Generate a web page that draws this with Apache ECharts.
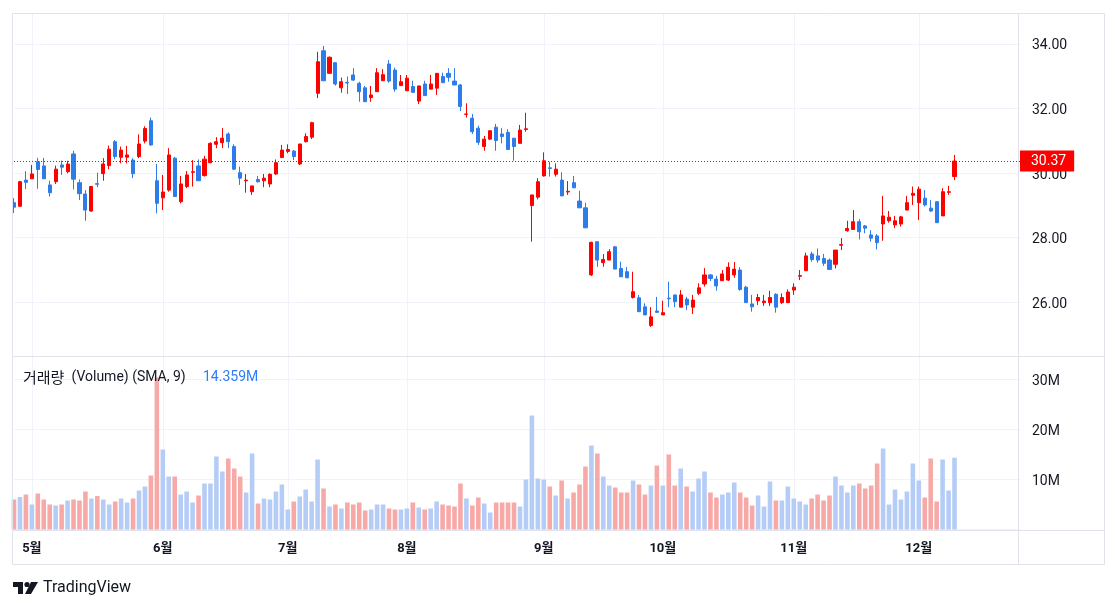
<!DOCTYPE html>
<html><head><meta charset="utf-8">
<script src="https://cdn.jsdelivr.net/npm/echarts@6/dist/echarts.min.js"></script>
<style>html,body{margin:0;padding:0;background:#fff}#c{width:1118px;height:609px}</style>
</head><body><div id="c"></div>
<script>
// trading days (month, day list)
const tradingDays = [
  ['2023-04', [26,27,28]],
  ['2023-05', [1,2,3,4,5,8,9,10,11,12,15,16,17,18,19,22,23,24,25,26,30,31]],
  ['2023-06', [1,2,5,6,7,8,9,12,13,14,15,16,20,21,22,23,26,27,28,29,30]],
  ['2023-07', [3,5,6,7,10,11,12,13,14,17,18,19,20,21,24,25,26,27,28,31]],
  ['2023-08', [1,2,3,4,7,8,9,10,11,14,15,16,17,18,21,22,23,24,25,28,29,30,31]],
  ['2023-09', [1,5,6,7,8,11,12,13,14,15,18,19,20,21,22,25,26,27,28,29]],
  ['2023-10', [2,3,4,5,6,9,10,11,12,13,16,17,18,19,20,23,24,25,26,27,30,31]],
  ['2023-11', [1,2,3,6,7,8,9,10,13,14,15,16,17,20,21,22,24,27,28,29,30]],
  ['2023-12', [1,4,5,6,7,8,11]]
];
// empty space on the right of the chart (future sessions)
const futureDays = [['2023-12', [12,13,14,15,18,19,20,21,22,26,27]]];

const opens = [29.08,28.97,29.78,29.82,30.35,30.22,29.63,29.73,30.25,30.04,
 30.59,29.70,29.35,28.82,29.67,29.98,30.23,30.97,30.49,30.49,
 30.40,30.51,30.99,31.62,29.76,29.23,29.47,30.46,29.11,29.58,
 30.02,30.22,29.92,30.32,30.89,30.94,31.21,30.82,30.01,29.76,
 29.42,29.80,29.76,29.66,29.97,30.48,30.67,30.68,30.28,30.97,
 31.11,32.47,33.79,33.09,33.42,32.64,32.81,33.04,32.78,32.64,
 32.34,32.52,32.86,33.38,33.19,32.71,32.55,32.68,32.23,32.76,
 32.60,32.63,32.99,33.09,32.85,32.73,31.82,31.70,31.39,30.82,
 31.05,31.42,31.21,31.26,31.08,30.92,31.35,28.99,29.25,29.91,
 30.16,29.96,29.78,29.41,29.70,29.13,28.92,26.84,27.87,27.22,
 27.30,27.71,27.04,26.94,26.14,26.13,25.85,25.27,25.72,25.60,
 26.12,26.22,25.84,26.09,25.84,26.27,26.56,26.84,26.71,26.66,
 26.68,26.84,26.99,26.46,25.94,26.04,25.98,25.98,26.24,25.98,
 25.98,26.37,26.80,26.97,27.49,27.43,27.35,27.30,27.17,27.76,
 28.21,28.25,28.49,28.36,28.08,28.05,28.42,28.52,28.39,28.42,
 28.85,29.31,29.08,29.22,28.91,29.11,28.67,29.40,29.89];
const closes = [28.94,29.73,29.71,29.97,30.11,29.82,29.39,30.12,30.18,30.28,
 29.81,29.36,28.85,29.58,29.65,30.28,30.74,30.51,30.71,30.56,
 29.98,30.90,31.38,30.87,29.06,29.41,30.56,29.27,29.66,29.94,
 30.04,29.76,30.43,30.92,30.97,31.08,30.97,30.12,29.84,29.78,
 29.60,29.73,29.84,29.96,30.32,30.71,30.73,30.51,30.90,31.13,
 31.56,33.45,32.86,33.59,32.76,32.83,32.79,32.88,32.52,32.21,
 32.42,33.11,33.05,32.85,32.60,32.83,32.94,32.50,32.70,32.40,
 32.76,33.09,32.80,32.97,32.73,32.06,31.83,31.28,30.95,31.05,
 31.31,31.01,31.13,30.73,30.82,31.33,31.37,29.32,29.73,30.38,
 30.14,30.12,29.29,29.43,29.54,28.92,28.30,27.85,27.30,27.32,
 27.56,27.02,26.78,26.75,26.32,25.70,25.60,25.54,25.68,25.67,
 26.10,26.01,26.22,25.91,26.06,26.44,26.84,26.73,26.50,26.87,
 27.08,27.02,26.39,25.98,25.85,26.14,26.03,26.14,25.84,26.14,
 26.31,26.46,26.82,27.43,27.32,27.30,27.20,27.01,27.61,27.78,
 28.28,28.49,28.18,28.29,27.98,27.84,28.67,28.63,28.52,28.64,
 29.08,29.37,29.50,29.01,28.82,28.46,29.42,29.42,30.37];
const lows = [28.76,28.95,29.50,29.82,29.51,29.82,29.27,29.66,29.94,29.99,
 29.49,29.16,28.52,28.80,29.56,29.76,30.12,30.43,30.30,30.30,
 29.84,30.46,30.92,30.85,28.75,28.85,29.42,29.26,29.06,29.53,
 29.58,29.76,29.89,30.30,30.77,30.77,30.77,30.09,29.63,29.39,
 29.32,29.70,29.56,29.56,29.94,30.46,30.61,30.40,30.25,30.95,
 31.05,32.32,32.86,33.09,32.71,32.49,32.45,32.86,32.21,32.21,
 32.21,32.52,32.86,32.80,32.52,32.70,32.55,32.50,32.14,32.40,
 32.60,32.42,32.80,32.83,32.73,31.92,31.72,31.21,30.87,30.69,
 31.02,30.69,30.92,30.73,30.38,30.92,31.28,27.87,29.18,29.89,
 29.89,29.89,29.29,29.32,29.54,28.92,28.30,26.81,27.09,27.09,
 27.30,27.02,26.78,26.75,26.11,25.70,25.60,25.23,25.67,25.60,
 25.84,25.84,25.84,25.75,25.63,26.22,26.48,26.65,26.35,26.66,
 26.65,26.75,26.35,25.98,25.70,25.91,25.88,25.88,25.67,25.94,
 25.98,26.22,26.68,26.97,27.25,27.22,27.12,26.99,27.04,27.61,
 28.18,28.25,27.94,28.13,27.87,27.63,27.90,28.46,28.29,28.34,
 28.85,29.01,28.54,28.96,28.80,28.46,28.67,29.32,29.78];
const highs = [29.22,29.76,30.06,30.25,30.47,30.47,29.76,30.23,30.38,30.38,
 30.69,29.80,29.47,29.60,30.01,30.46,30.85,31.02,30.82,30.84,
 30.46,31.20,31.45,31.72,30.28,29.94,30.77,30.50,29.91,30.06,
 30.40,30.42,30.53,30.95,31.11,31.39,31.26,30.89,30.20,29.97,
 29.60,29.91,29.97,29.99,30.42,30.87,30.89,30.71,30.90,31.23,
 31.59,33.76,33.94,33.61,33.42,32.96,32.99,33.25,32.83,32.70,
 32.70,33.25,33.22,33.50,33.27,33.04,33.04,32.86,32.70,32.86,
 33.04,33.09,33.11,33.25,33.25,32.76,32.16,31.83,31.47,31.15,
 31.33,31.52,31.39,31.36,31.08,31.49,31.87,29.32,29.84,30.64,
 30.35,30.30,30.02,29.75,29.91,29.45,29.08,27.87,27.87,27.49,
 27.64,27.74,27.25,27.08,26.94,26.22,25.96,25.84,26.16,26.04,
 26.63,26.22,26.37,26.16,26.22,26.58,27.05,26.87,26.81,26.99,
 27.23,27.24,27.08,26.50,26.22,26.25,26.22,26.35,26.27,26.27,
 26.39,26.58,26.99,27.53,27.56,27.66,27.49,27.35,27.61,27.98,
 28.52,28.85,28.57,28.39,28.23,28.11,29.29,28.82,28.67,28.67,
 29.29,29.58,29.58,29.47,29.16,29.13,29.53,29.60,30.56];
// volume in millions
const volumes = [6.0,6.5,7.0,5.0,7.2,6.0,5.0,4.8,5.0,5.8,
 6.0,5.8,7.6,6.2,6.7,6.0,5.0,5.6,6.2,5.4,
 6.2,7.8,8.6,10.8,30.4,16.0,10.6,10.6,7.0,7.6,
 5.4,6.8,9.2,9.2,14.6,11.6,14.2,12.2,10.6,7.4,
 15.2,5.2,6.2,6.0,7.6,9.0,4.0,5.6,6.6,8.0,
 5.6,14.0,8.2,4.6,5.0,4.2,5.4,5.0,5.4,3.8,
 4.0,5.0,5.0,4.2,4.0,4.0,4.2,5.4,4.4,4.0,
 4.2,5.6,5.0,4.8,4.6,9.2,6.2,4.8,6.4,5.2,
 3.4,5.4,5.4,5.4,5.4,4.6,10.0,22.8,10.2,10.0,
 8.6,6.8,9.8,6.2,7.4,9.0,12.6,16.8,15.2,10.6,
 8.8,8.4,7.4,7.4,9.8,9.0,7.0,8.8,12.8,8.8,
 15.0,8.8,12.2,8.6,7.6,10.2,11.6,7.4,6.4,7.0,
 7.4,9.4,7.4,6.4,4.8,6.8,4.6,9.6,5.8,5.8,
 8.6,6.2,5.6,5.0,6.2,7.0,5.8,6.8,10.6,8.8,
 7.4,8.8,9.2,8.2,8.8,13.2,16.2,5.0,8.0,6.0,
 7.6,13.2,9.8,6.4,14.2,5.6,14.0,7.8,14.359];

const volumeTitleKo = '거래량';
const volumeTitleEn = ' (Volume) (SMA, 9)';
const monthSuffix = '월';

// ---- build
const dates = [];
tradingDays.concat(futureDays).forEach(([ym, days]) =>
  days.forEach(d => dates.push(ym + '-' + String(d).padStart(2, '0'))));
const monthStart = dates.map((d, i) => i > 0 && d.slice(0, 7) !== dates[i - 1].slice(0, 7));

const UP = '#ff0000', DOWN = '#2d7cea';
const VOL_UPBAR = '#b5cdf6', VOL_DOWNBAR = '#f7a9a8';
const LABEL_BLUE = '#2e7cf6';
const GRID = '#f0f3fa', FRAME = '#e0e3eb', TEXT = '#131722';
const FONT = 'Roboto, "Noto Sans CJK KR", sans-serif';
const KFONT = '"Noto Sans CJK KR", sans-serif';

const candles = opens.map((o, i) => [o, closes[i], lows[i], highs[i]]);
const volData = volumes.map((v, i) => ({
  value: v,
  itemStyle: { color: closes[i] >= opens[i] ? VOL_UPBAR : VOL_DOWNBAR }
}));
const lastClose = closes[closes.length - 1];
const lastVol = volumes[volumes.length - 1];

const chart = echarts.init(document.getElementById('c'), null, { renderer: 'canvas' });
const option = {
  animation: false,
  backgroundColor: '#ffffff',
  textStyle: { fontFamily: FONT },
  grid: [
    { left: 14, right: 98, top: 13, bottom: 253 },
    { left: 14, right: 98, top: 356, bottom: 79.5 }
  ],
  xAxis: [
    { type: 'category', gridIndex: 0, data: dates, boundaryGap: false,
      axisLine: { show: false }, axisTick: { show: false }, axisLabel: { show: false },
      splitLine: { show: true, interval: (i) => monthStart[i], lineStyle: { color: GRID, width: 1 } } },
    { type: 'category', gridIndex: 1, data: dates, boundaryGap: false,
      axisLine: { show: false }, axisTick: { show: false },
      axisLabel: { show: true, interval: (i) => monthStart[i],
        formatter: (d) => (+d.slice(5, 7)) + monthSuffix,
        color: TEXT, fontSize: 13, fontWeight: 'bold', margin: 13, fontFamily: FONT },
      splitLine: { show: true, interval: (i) => monthStart[i], lineStyle: { color: GRID, width: 1 } } }
  ],
  yAxis: [
    { type: 'value', gridIndex: 0, position: 'right', min: 24.326, max: 34.961,
      splitNumber: 5, minInterval: 2, maxInterval: 2, scale: true,
      axisLine: { show: false }, axisTick: { show: false },
      axisLabel: { showMinLabel: false, showMaxLabel: false, formatter: (v) => v.toFixed(2),
        color: TEXT, fontSize: 14, margin: 12, fontFamily: FONT,
        verticalAlign: 'top', lineHeight: 4 },
      splitLine: { lineStyle: { color: GRID, width: 1 } } },
    { type: 'value', gridIndex: 1, position: 'right', min: 0, max: 34.7,
      splitNumber: 3, minInterval: 10, maxInterval: 10,
      axisLine: { show: false }, axisTick: { show: false },
      axisLabel: { showMinLabel: false, showMaxLabel: false, formatter: (v) => v + 'M',
        color: TEXT, fontSize: 14, margin: 12, fontFamily: FONT,
        verticalAlign: 'top', lineHeight: 4 },
      splitLine: { lineStyle: { color: GRID, width: 1 } } }
  ],
  series: [
    { type: 'candlestick', xAxisIndex: 0, yAxisIndex: 0, data: candles,
      barWidth: 3.6, clip: false,
      itemStyle: { color: UP, color0: DOWN, borderColor: UP, borderColor0: DOWN, borderWidth: 1 },
      markLine: { symbol: 'none', silent: true, animation: false,
        lineStyle: { color: UP, type: [1, 2], width: 1 },
        label: { show: true, position: 'end', distance: 0,
          formatter: (p) => p.value.toFixed(2), color: '#fff', backgroundColor: UP,
          padding: [4, 8, 3, 11], fontSize: 14, fontFamily: FONT },
        data: [{ yAxis: lastClose }] } },
    { type: 'bar', xAxisIndex: 1, yAxisIndex: 1, data: volData, barWidth: 4.6, clip: false,
      markLine: { symbol: 'none', silent: true, animation: false,
        lineStyle: { opacity: 0 },
        label: { show: true, position: 'end', distance: 0,
          formatter: (p) => p.value.toFixed(3) + 'M', color: '#fff', backgroundColor: LABEL_BLUE,
          padding: [3, 8, 2, 11], fontSize: 14, fontFamily: FONT },
        data: [{ yAxis: lastVol }] } }
  ],
  graphic: [
    { type: 'rect', z: 100, silent: true, shape: { x: 12.5, y: 13.5, width: 1092, height: 551 },
      style: { fill: null, stroke: FRAME, lineWidth: 1 } },
    { type: 'line', z: 100, silent: true, shape: { x1: 12, y1: 356.5, x2: 1105, y2: 356.5 },
      style: { stroke: FRAME, lineWidth: 1 } },
    { type: 'line', z: 100, silent: true, shape: { x1: 12, y1: 530.5, x2: 1105, y2: 530.5 },
      style: { stroke: FRAME, lineWidth: 1 } },
    { type: 'line', z: 100, silent: true, shape: { x1: 1018.5, y1: 13, x2: 1018.5, y2: 565 },
      style: { stroke: FRAME, lineWidth: 1 } },
    { type: 'text', z: 100, silent: true, x: 23, y: 377,
      style: { text: volumeTitleKo, fill: TEXT, font: '15px ' + KFONT, textVerticalAlign: 'middle' } },
    { type: 'text', z: 100, silent: true, x: 68, y: 377,
      style: { text: volumeTitleEn, fill: TEXT, font: '14px ' + FONT, textVerticalAlign: 'middle' } },
    { type: 'text', z: 100, silent: true, x: 203, y: 377,
      style: { text: lastVol.toFixed(3) + 'M', fill: LABEL_BLUE, font: '14px ' + FONT, textVerticalAlign: 'middle' } },
    // TradingView logo
    { type: 'group', z: 100, silent: true, children: [
      { type: 'polygon', shape: { points: [[13,582],[23,582],[23,594],[18,594],[18,587],[13,587]] }, style: { fill: TEXT } },
      { type: 'circle', shape: { cx: 27, cy: 584.5, r: 2.6 }, style: { fill: TEXT } },
      { type: 'polygon', shape: { points: [[31,582],[38,582],[31,594],[25,594]] }, style: { fill: TEXT } },
      { type: 'text', x: 43, y: 588, style: { text: 'TradingView', fill: TEXT, font: '16px ' + FONT, textVerticalAlign: 'middle' } }
    ] }
  ]
};
chart.setOption(option);
</script>
</body></html>
